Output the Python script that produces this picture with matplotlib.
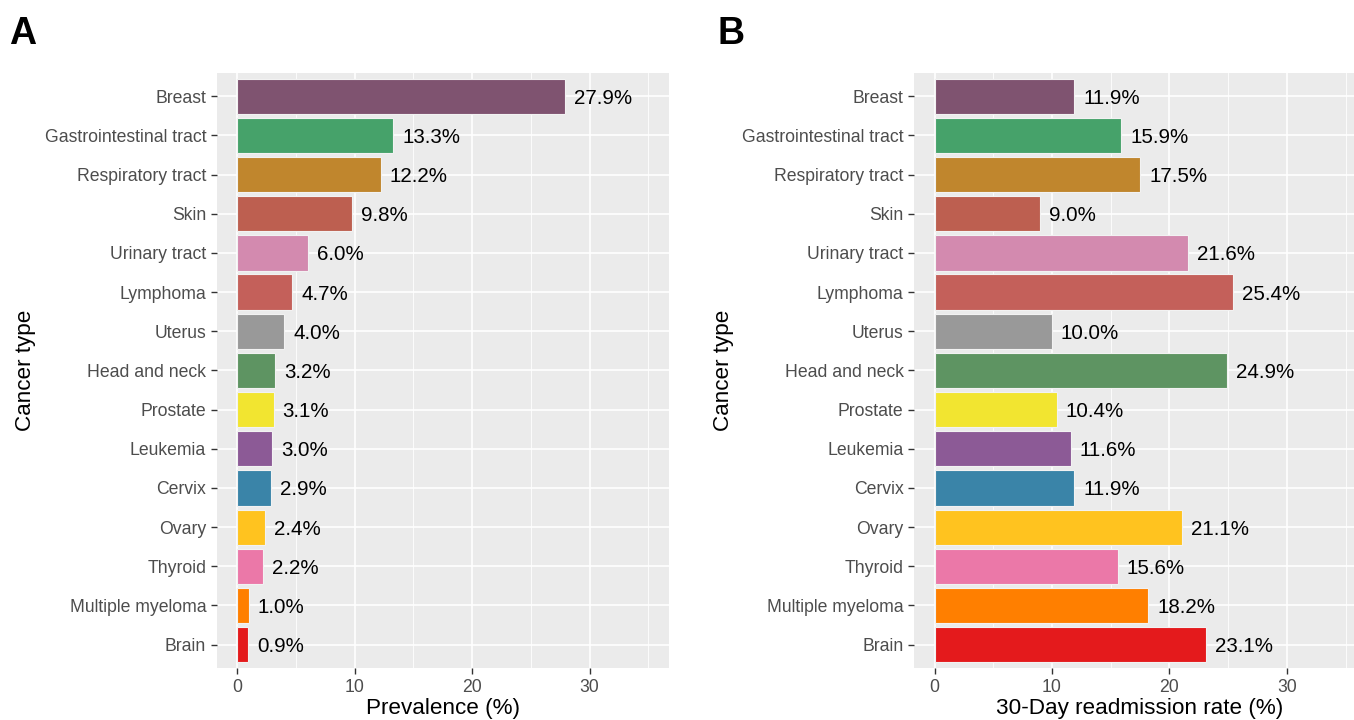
import numpy as np
import matplotlib.pyplot as plt

plt.rcParams['font.family'] = ['Liberation Sans', 'DejaVu Sans']

cancer_types = ['Breast', 'Gastrointestinal tract', 'Respiratory tract', 'Skin',
                'Urinary tract', 'Lymphoma', 'Uterus', 'Head and neck', 'Prostate',
                'Leukemia', 'Cervix', 'Ovary', 'Thyroid', 'Multiple myeloma', 'Brain']
prevalence = [27.9, 13.3, 12.2, 9.8, 6.0, 4.7, 4.0, 3.2, 3.1, 3.0, 2.9, 2.4, 2.2, 1.0, 0.9]
readmission = [11.9, 15.9, 17.5, 9.0, 21.6, 25.4, 10.0, 24.9, 10.4, 11.6, 11.9, 21.1, 15.6, 18.2, 23.1]
bar_colors = ['#7F5370', '#46A26A', '#C0862D', '#BD5F50', '#D38AAF', '#C4605A',
              '#999999', '#5E9462', '#F2E530', '#8C5A96', '#3A84A8', '#FFC31F',
              '#EB78A8', '#FF7F00', '#E41A1C']

fig = plt.figure(figsize=(13.54, 7.2), dpi=100)


def draw_panel(ax, values, xlabel):
    ypos = np.arange(len(cancer_types))
    ax.set_facecolor('#EBEBEB')
    ax.barh(ypos, values, height=0.9, color=bar_colors, edgecolor='#F2F2F2',
            linewidth=0.8, zorder=3)
    for y, v in zip(ypos, values):
        ax.annotate('{:.1f}%'.format(v), (v, y), xytext=(6.5, 0),
                    textcoords='offset points', va='center_baseline', ha='left',
                    fontsize=14.8, color='black', zorder=4)
    ax.set_xlim(-1.75, 36.75)
    ax.set_ylim(len(cancer_types) - 0.4, -0.6)
    ax.set_xticks([0, 10, 20, 30])
    ax.set_xticks([5, 15, 25, 35], minor=True)
    ax.set_yticks(ypos)
    ax.set_yticklabels(cancer_types)
    ax.grid(which='major', color='white', linewidth=1.2, zorder=0)
    ax.grid(which='minor', axis='x', color='white', linewidth=0.6, zorder=0)
    ax.set_axisbelow(True)
    for s in ax.spines.values():
        s.set_visible(False)
    ax.tick_params(which='major', colors='#333333', labelcolor='#4D4D4D',
                   labelsize=12.7, length=4, width=1.0)
    ax.tick_params(which='minor', length=0)
    ax.set_xlabel(xlabel, fontsize=16.2, labelpad=2)
    ax.set_ylabel('Cancer type', fontsize=16.2, labelpad=6)


ax1 = fig.add_axes([0.160, 0.072, 0.334, 0.827])
draw_panel(ax1, prevalence, 'Prevalence (%)')
ax2 = fig.add_axes([0.675, 0.072, 0.334, 0.827])
draw_panel(ax2, readmission, '30-Day readmission rate (%)')

fig.text(0.007, 0.953, 'A', fontsize=27, fontweight='bold', va='center')
fig.text(0.530, 0.953, 'B', fontsize=27, fontweight='bold', va='center')

fig.savefig('out.png', dpi=100)
